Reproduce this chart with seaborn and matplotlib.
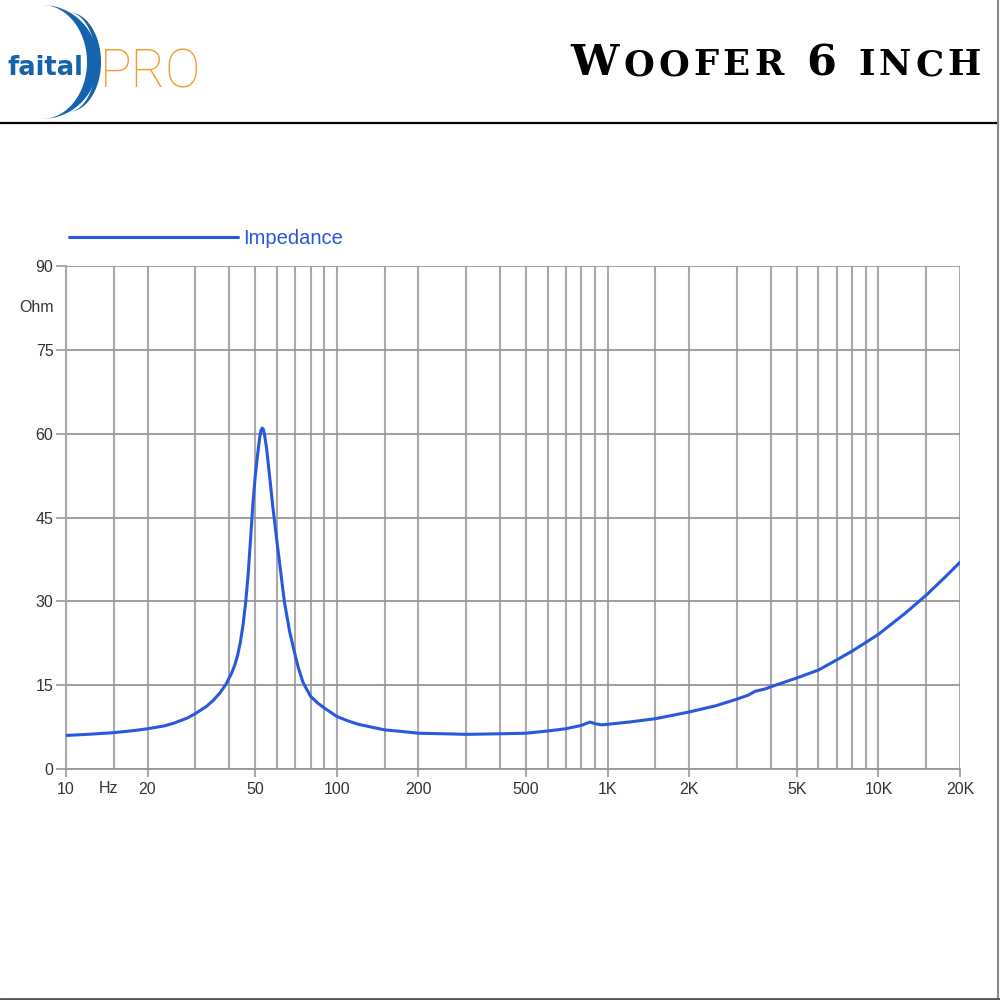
import numpy as np
import pandas as pd
import matplotlib
matplotlib.use("Agg")
import matplotlib.pyplot as plt
import seaborn as sns
from matplotlib.lines import Line2D
from matplotlib.patches import Polygon
import matplotlib.transforms as mtransforms

# ---------------- data ----------------
freq_hz = [10, 12, 15, 18, 20, 23, 25, 28, 30, 33, 35, 37, 39, 41, 42, 43, 44, 45, 46,
           47, 48, 49, 50, 51, 52, 52.5, 53, 53.5, 54, 55, 56, 57, 58, 59, 60, 62, 64,
           67, 70, 72, 75, 80, 85, 90, 100, 110, 120, 150, 175, 200, 250, 300, 400,
           500, 600, 700, 800, 860, 900, 950, 1000, 1200, 1500, 2000, 2500, 3000,
           3300, 3500, 3800, 4000, 5000, 6000, 7000, 8000, 10000, 12500, 15000,
           17500, 20000]
impedance_ohm = [6.0, 6.2, 6.5, 6.9, 7.2, 7.7, 8.2, 9.1, 9.9, 11.2, 12.3, 13.6, 15.2,
                 17.3, 18.6, 20.3, 22.6, 25.6, 29.5, 34.5, 41.0, 47.5, 52.5, 56.3,
                 59.6, 60.6, 61.0, 60.8, 60.0, 57.5, 54.0, 50.5, 47.0, 44.0, 41.0,
                 35.4, 30.0, 24.5, 20.6, 18.2, 15.5, 13.0, 11.8, 10.9, 9.4, 8.6, 8.0,
                 7.0, 6.7, 6.4, 6.3, 6.2, 6.3, 6.4, 6.8, 7.2, 7.8, 8.4, 8.1, 7.9, 8.0,
                 8.4, 9.0, 10.2, 11.3, 12.5, 13.2, 13.9, 14.3, 14.7, 16.3, 17.7, 19.5,
                 21.1, 24.1, 27.8, 31.1, 34.2, 37.0]

y_ticks = [0, 15, 30, 45, 60, 75, 90]
x_label_ticks = [10, 20, 50, 100, 200, 500, 1000, 2000, 5000, 10000, 20000]
x_tick_labels = ["10", "20", "50", "100", "200", "500", "1K", "2K", "5K", "10K", "20K"]
x_grid = [10, 15, 20, 30, 40, 50, 60, 70, 80, 90,
          100, 150, 200, 300, 400, 500, 600, 700, 800, 900,
          1000, 1500, 2000, 3000, 4000, 5000, 6000, 7000, 8000, 9000,
          10000, 15000, 20000]
series_name = "Impedance"
title_text = "Woofer 6 inch"
logo_left = "faital"
logo_right = "PRO"

df = pd.DataFrame({"Frequency": freq_hz, "Impedance": impedance_ohm})

# ---------------- figure ----------------
sns.set_theme(style="white")
plt.rcParams["font.family"] = ["Liberation Sans", "DejaVu Sans"]

fig = plt.figure(figsize=(10, 10), dpi=100)
fig.patch.set_facecolor("white")

ax = fig.add_axes([0.066, 0.231, 0.894, 0.503])
ax.set_facecolor("white")

grid_v = "#a9a9ad"
grid_h = "#96969a"
blue = "#2858de"
label_col = "#333333"

for g in x_grid:
    ax.axvline(g, color=grid_v, lw=1.5, zorder=1)
for t in y_ticks:
    ax.axhline(t, color=grid_h, lw=1.3, zorder=1)

sns.lineplot(data=df, x="Frequency", y="Impedance", ax=ax, color=blue,
             lw=2.2, label=series_name, zorder=3, sort=False)

ax.set_xscale("log")
ax.set_xlim(10, 20000)
ax.set_ylim(0, 90)
ax.set_xlabel("")
ax.set_ylabel("")

for s in ["top", "right"]:
    ax.spines[s].set_visible(False)
ax.spines["left"].set_color(grid_v)
ax.spines["left"].set_linewidth(1.5)
ax.spines["bottom"].set_color(grid_h)
ax.spines["bottom"].set_linewidth(1.3)

ax.set_yticks(y_ticks)
ax.set_yticklabels([str(v) for v in y_ticks])
ax.set_xticks(x_label_ticks)
ax.set_xticklabels(x_tick_labels)
ax.xaxis.set_minor_locator(matplotlib.ticker.NullLocator())
ax.tick_params(axis="y", which="major", left=True, length=7, width=1.2,
               color=grid_h, labelsize=11.5, labelcolor=label_col, pad=2)
ax.tick_params(axis="x", which="major", bottom=True, length=6, width=1.5,
               color=grid_v, labelsize=11.5, labelcolor=label_col, pad=3)

# Ohm and Hz unit labels
ax.text(-0.033, 82.5, "Ohm",
        transform=mtransforms.blended_transform_factory(ax.transAxes, ax.transData),
        ha="center", va="center", fontsize=11.5, color=label_col)
ax.text(14.3, -0.0245, "Hz",
        transform=mtransforms.blended_transform_factory(ax.transData, ax.transAxes),
        ha="center", va="top", fontsize=11.5, color=label_col)

# legend
leg = ax.legend(loc="center left", bbox_to_anchor=(0.069, 0.761),
                bbox_transform=fig.transFigure, frameon=False, fontsize=14.5,
                handlelength=8.4, handletextpad=0.25, borderpad=0, borderaxespad=0)
for txt in leg.get_texts():
    txt.set_color(blue)
for h in leg.legend_handles:
    h.set_linewidth(2.2)

# ---------------- header ----------------
fig.add_artist(Line2D([0, 0.998], [0.877, 0.877], color="black", lw=1.6,
                      transform=fig.transFigure))
fig.add_artist(Line2D([0.998, 0.998], [0.0, 1.0], color="#8a8a8a", lw=1.5,
                      transform=fig.transFigure))
fig.add_artist(Line2D([0.0, 1.0], [0.0015, 0.0015], color="#555555", lw=2.0,
                      transform=fig.transFigure))

# logo (decoration) in a pixel-coordinate overlay
lax = fig.add_axes([0, 0.877, 0.25, 0.123])
lax.set_xlim(0, 250)
lax.set_ylim(123, 0)
lax.axis("off")
t = np.linspace(-1, 1, 120)
s = np.sqrt(1 - t ** 2)
logo_blue = "#1563ad"
outer = np.column_stack([42 + 56 * s, 62 + 57 * t])
inner = np.column_stack([42 + 45 * s, 62 + 57 * t])[::-1]
lax.add_patch(Polygon(np.vstack([outer, inner]), closed=True, color=logo_blue, lw=0))
outer2 = np.column_stack([68 + 33 * s, 62 + 50 * t])
inner2 = np.column_stack([68 + 28 * s, 62 + 50 * t])[::-1]
lax.add_patch(Polygon(np.vstack([outer2, inner2]), closed=True, color=logo_blue, lw=0))
lax.text(8, 75, logo_left, fontsize=18.5, fontweight="bold", color=logo_blue,
         family=["DejaVu Sans"], ha="left", va="baseline")
orange = "#f39a2c"
lax.text(100, 87, logo_right, fontsize=38, fontweight="light", color=orange,
         family=["Roboto", "DejaVu Sans"], ha="left", va="baseline")

# title in small caps, letter by letter with tracking
tax = fig.add_axes([0, 0.877, 1, 0.123])
tax.set_xlim(0, 1000)
tax.set_ylim(123, 0)
tax.axis("off")
pieces = []
for i, ch in enumerate(title_text):
    big = (i == 0) or ch.isdigit()
    pieces.append(tax.text(0, 75, ch.upper(), fontsize=31 if big else 25.5,
                           fontweight="bold", family=["DejaVu Serif"],
                           color="black", ha="left", va="baseline"))
renderer = fig.canvas.get_renderer()
widths = []
for p in pieces:
    if p.get_text().strip() == "":
        widths.append(14.0)
    else:
        widths.append(p.get_window_extent(renderer=renderer).width)
track = 4.2
total = sum(widths) + track * (len(widths) - 1)
x0 = 981 - total
for p, w in zip(pieces, widths):
    p.set_x(x0)
    x0 += w + track

fig.savefig("out.png", dpi=100, facecolor="white")
